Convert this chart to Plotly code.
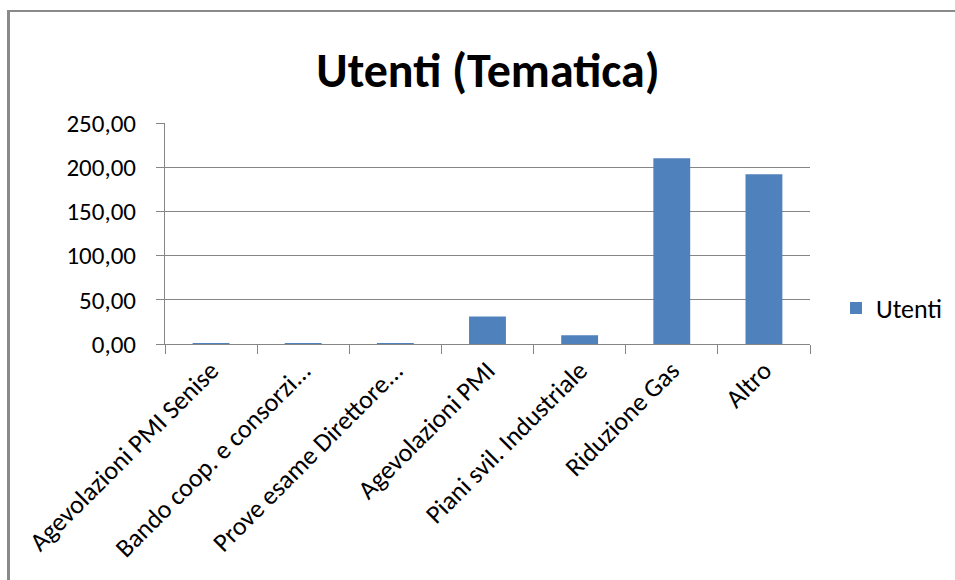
import plotly.graph_objects as go

categories = [
    "Agevolazioni PMI Senise",
    "Bando coop. e consorzi...",
    "Prove esame Direttore...",
    "Agevolazioni PMI",
    "Piani svil. Industriale",
    "Riduzione Gas",
    "Altro",
]
utenti = [1, 1, 1, 31, 10, 210, 192]
y_ticks = [0, 50, 100, 150, 200, 250]

FONT = "Calibri, Carlito, Lato, sans-serif"
W, H = 955, 580
L, R, T, B = 165, 145, 123, 236
pw, ph = W - L - R, H - T - B

def px_x(x):
    return (x - L) / pw

def px_y(y):
    return (H - B - y) / ph

fig = go.Figure()
fig.add_trace(go.Bar(
    x=categories, y=utenti, name="Utenti",
    marker=dict(color="#4F81BD", line=dict(width=0)),
))

fig.update_layout(
    width=W, height=H,
    margin=dict(l=L, r=R, t=T, b=B, autoexpand=False),
    paper_bgcolor="white", plot_bgcolor="white",
    bargap=0.6,
    separators=",.",
    font=dict(family=FONT, color="#000000", size=26),
    title=dict(text="<b>Utenti (Tematica)</b>", x=0.511, xanchor="center",
               y=1 - 70 / H, yanchor="middle",
               font=dict(family=FONT, size=48, color="#000000")),
    showlegend=True,
    legend=dict(x=px_x(836), xanchor="left", y=px_y(308), yanchor="middle",
                font=dict(family=FONT, size=26, color="#000000"),
                itemwidth=30, bgcolor="rgba(0,0,0,0)", borderwidth=0),
    xaxis=dict(
        tickangle=-45, tickson="boundaries", ticks="outside", ticklen=9,
        tickcolor="#868686", tickwidth=1, showline=True, linecolor="#868686",
        linewidth=1, showgrid=False, tickfont=dict(family=FONT, size=26),
        fixedrange=True,
    ),
    yaxis=dict(
        range=[0, 250], tickvals=y_ticks, tickformat=".2f",
        ticks="outside", ticklen=8, tickcolor="#868686",
        showline=True, linecolor="#868686", linewidth=1,
        showgrid=True, gridcolor="#868686", gridwidth=1,
        zeroline=False, tickfont=dict(family=FONT, size=25), ticklabelstandoff=15,
        fixedrange=True,
    ),
    shapes=[
        dict(type="line", xref="paper", yref="paper",
             x0=px_x(7), x1=px_x(W + 5), y0=px_y(11), y1=px_y(11),
             line=dict(color="#8a8a8a", width=2)),
        dict(type="line", xref="paper", yref="paper",
             x0=px_x(8.5), x1=px_x(8.5), y0=px_y(10), y1=px_y(H + 5),
             line=dict(color="#8a8a8a", width=3)),
    ],
)

fig.write_html("out.html")
